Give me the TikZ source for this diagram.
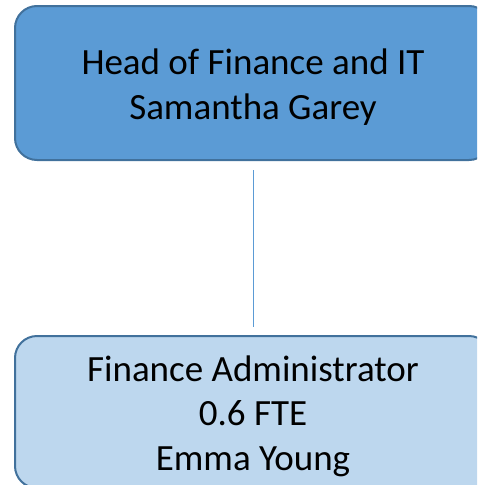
\documentclass[tikz,border=0pt]{standalone}
\usepackage{fontspec}
\setmainfont{Carlito}
\usetikzlibrary{positioning}
\definecolor{headblue}{HTML}{5B9BD5}
\definecolor{staffblue}{HTML}{BDD7EE}
\definecolor{edgeblue}{HTML}{41719C}
\newcommand{\lift}{\rule{0pt}{34pt}}
\begin{document}
\begin{tikzpicture}[x=1pt,y=1pt,
    post/.style={draw=edgeblue,line width=2pt,rounded corners=22pt,
        minimum width=476pt,align=center,font=\fontsize{37}{44.5}\selectfont},
    link/.style={draw=headblue,line width=1pt}]
    \useasboundingbox (0,0) rectangle (477,-485);
    \clip (0,0) rectangle (477,-485);
    \node[post,fill=headblue,minimum height=154pt] (head) at (253,-83)
        {\lift Head of Finance and IT\\Samantha Garey};
    \node[post,fill=staffblue,minimum height=152pt,below=174pt of head] (admin)
        {\lift Finance Administrator\\0.6 FTE\\Emma Young};
    \draw[link,shorten <=9pt,shorten >=8pt] (head) -- (admin);
\end{tikzpicture}
\end{document}
